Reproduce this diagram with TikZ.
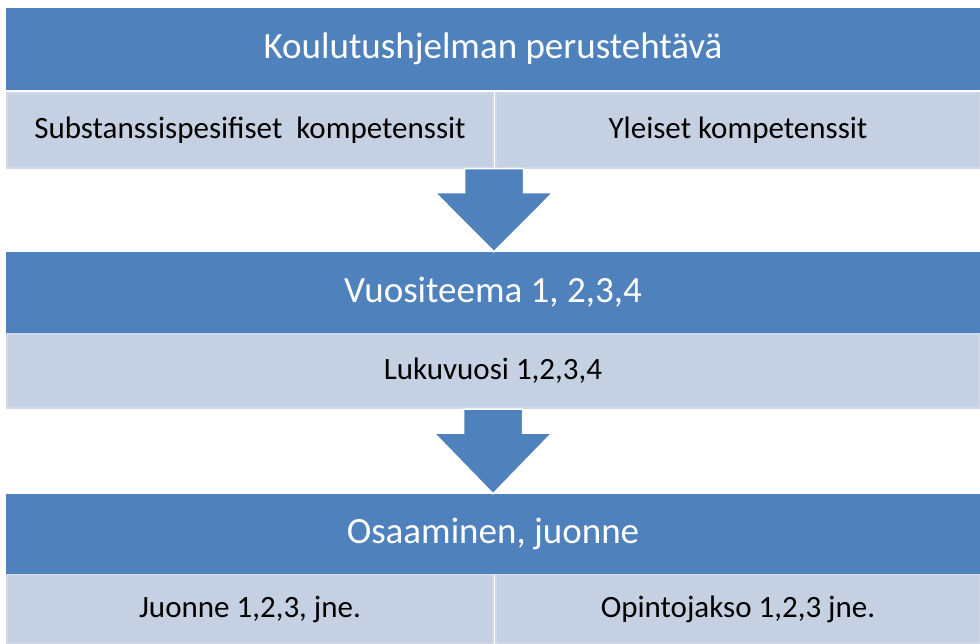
\documentclass[tikz,border=0pt]{standalone}
\usepackage{fontspec}
\setmainfont{Carlito}
\usetikzlibrary{calc}

\definecolor{bandblue}{HTML}{4F81BD}
\definecolor{cellblue}{HTML}{C5D0E3}
\definecolor{celledge}{HTML}{D0D8E8}

\tikzset{
  band/.style={fill=bandblue, text=white, inner sep=0pt, font=\fontsize{37}{44}\selectfont},
  cell/.style={fill=cellblue, draw=celledge, line width=2pt, inner sep=0pt, text=black, font=\fontsize{31}{37}\selectfont},
  blockarrow/.style={fill=bandblue, draw=white, line width=1.5pt, line join=miter},
}

\begin{document}
\begin{tikzpicture}[x=1pt, y=-1pt]
    \useasboundingbox (0, 0) rectangle (980, 643);

    % ylin taso
    \node[band, minimum width=974pt, minimum height=82pt] (perus) at (493, 49) {Koulutushjelman perustehtävä};
    \node[cell, minimum width=486pt, minimum height=75pt] (subst) at (250, 130) {Substanssispesifiset\ \ kompetenssit};
    \node[cell, minimum width=484pt, minimum height=75pt] (yleis) at (738, 130) {Yleiset kompetenssit};

    % keskitaso
    \node[band, minimum width=974pt, minimum height=81pt] (teema) at (493, 292.5) {Vuositeema 1, 2,3,4};
    \node[cell, minimum width=972pt, minimum height=74pt] (luku) at (493, 371) {Lukuvuosi 1,2,3,4};

    % alin taso
    \node[band, minimum width=974pt, minimum height=80pt] (osaa) at (493, 534) {Osaaminen, juonne};
    \node[cell, minimum width=486pt, minimum height=68pt] (juonne) at (250, 609) {Juonne 1,2,3, jne.};
    \node[cell, minimum width=484pt, minimum height=68pt] (jakso) at (738, 609) {Opintojakso 1,2,3 jne.};

    % nuolet
    \draw[blockarrow] let \p1 = (subst.south east), \p2 = (teema.north) in
      (\x1-29.5pt, \y1) -- (\x1+29.5pt, \y1) -- (\x1+29.5pt, \y1-24pt) -- (\x1+59pt, \y1-24pt)
      -- (\x1, \y2) -- (\x1-59pt, \y1-24pt) -- (\x1-29.5pt, \y1-24pt) -- cycle;
    \draw[blockarrow] let \p1 = (luku.south), \p2 = (osaa.north) in
      (\x1-29.5pt, \y1) -- (\x1+29.5pt, \y1) -- (\x1+29.5pt, \y1-24pt) -- (\x1+59pt, \y1-24pt)
      -- (\x1, \y2) -- (\x1-59pt, \y1-24pt) -- (\x1-29.5pt, \y1-24pt) -- cycle;
\end{tikzpicture}
\end{document}
